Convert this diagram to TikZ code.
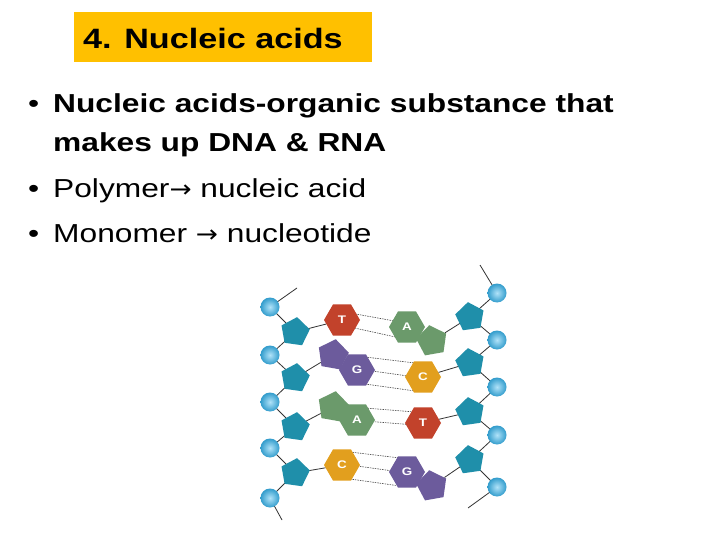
\documentclass[tikz,border=0pt]{standalone}
\usepackage{fontspec}
\setmainfont{Liberation Sans}[FakeStretch=1.22]
\newfontfamily\arr{DejaVu Sans}[FakeStretch=1.1]
\usetikzlibrary{shapes.geometric}
\definecolor{ttl}{HTML}{FFC000}
\definecolor{sug}{HTML}{1F8FAA}
\definecolor{pho}{HTML}{3BB8F0}
\definecolor{bT}{HTML}{C2422B}
\definecolor{bA}{HTML}{6B9A6B}
\definecolor{bG}{HTML}{6C5B9C}
\definecolor{bC}{HTML}{E29F1E}
\tikzset{
 phos/.style={circle,minimum size=19pt,inner sep=0pt,inner color=pho!40!white,outer color=pho!85!black,draw=none},
 sugar/.style={regular polygon,regular polygon sides=5,minimum size=30pt,inner sep=0pt,fill=sug},
 hexb/.style={regular polygon,regular polygon sides=6,minimum size=36pt,inner sep=0pt,fill=#1,text=white,font=\fontsize{11}{12}\selectfont\bfseries},
 pentb/.style={regular polygon,regular polygon sides=5,minimum size=32pt,inner sep=0pt,fill=#1},
 bb/.style={draw=black!80,line width=0.8pt},
 hb/.style={draw=black!70,line width=0.6pt,dash pattern=on 1.5pt off 1pt},
 txt/.style={anchor=base west,inner sep=0pt,font=\fontsize{26}{30}\selectfont}
}
\begin{document}
\begin{tikzpicture}[x=1pt,y=-1pt]
\useasboundingbox[fill=white] (0,0) rectangle (720,540);
\node[fill=ttl,minimum width=298pt,minimum height=50pt,inner sep=0pt,anchor=north west] (tb) at (74,12) {};
\node[txt,font=\fontsize{28}{32}\selectfont\bfseries] (tt) at (83,49) {4. Nucleic acids};
\node[txt] (b1) at (28,113) {•};
\node[txt,font=\fontsize{26}{30}\selectfont\bfseries] (l1) at (53,113) {Nucleic acids-organic substance that};
\node[txt,font=\fontsize{26}{30}\selectfont\bfseries] (l1b) at (53,152) {makes up DNA \& RNA};
\node[txt] (b2) at (28,197) {•};
\node[txt] (l2) at (53,197) {Polymer{\arr\fontsize{24}{28}\selectfont →} nucleic acid};
\node[txt] (b3) at (28,243) {•};
\node[txt] (l3) at (53,243) {Monomer {\arr\fontsize{24}{28}\selectfont →} nucleotide};
% backbone
\coordinate (lt) at (297,288); \coordinate (lb) at (282,520);
\coordinate (rt) at (480,265); \coordinate (rb) at (468,508);
\foreach \i/\y in {1/307,2/355,3/402,4/448,5/498}{\coordinate (LP\i) at (270,\y);}
\foreach \i/\y in {1/332,2/378,3/427,4/473}{\coordinate (LS\i) at (295,\y);}
\foreach \i/\y in {1/293,2/340,3/387,4/435,5/487}{\coordinate (RP\i) at (497,\y);}
\foreach \i/\y in {1/317,2/363,3/412,4/460}{\coordinate (RS\i) at (470,\y);}
\draw[bb] (lt)--(LP1)--(LS1)--(LP2)--(LS2)--(LP3)--(LS3)--(LP4)--(LS4)--(LP5)--(lb);
\draw[bb] (rt)--(RP1)--(RS1)--(RP2)--(RS2)--(RP3)--(RS3)--(RP4)--(RS4)--(RP5)--(rb);
% hydrogen bonds
\draw[hb] (350,313)--(400,322);
\draw[hb] (350,327)--(400,338);
\draw[hb] (365,357)--(415,363);
\draw[hb] (365,370)--(415,377);
\draw[hb] (365,384)--(415,391);
\draw[hb] (365,408)--(415,412);
\draw[hb] (365,421)--(415,425);
\draw[hb] (350,452)--(400,458);
\draw[hb] (350,465)--(400,472);
\draw[hb] (350,479)--(400,486);
% bases
\node[hexb=bT] (T1) at (342,320) {T};
\node[pentb=bA,rotate=10] (A1p) at (432,341) {};
\node[hexb=bA] (A1) at (407,327) {A};
\node[pentb=bG,rotate=-10] (G2p) at (333,355) {};
\node[hexb=bG] (G2) at (357,370) {G};
\node[hexb=bC] (C2) at (423,377) {C};
\node[pentb=bA,rotate=-10] (A3p) at (333,407) {};
\node[hexb=bA] (A3) at (357,420) {A};
\node[hexb=bT] (T3) at (423,423) {T};
\node[hexb=bC] (C4) at (342,465) {C};
\node[pentb=bG,rotate=10] (G4p) at (432,486) {};
\node[hexb=bG] (G4) at (407,472) {G};
\draw[bb] (LS1)--(T1); \draw[bb] (LS2)--(G2p); \draw[bb] (LS3)--(A3p); \draw[bb] (LS4)--(C4);
\draw[bb] (RS1)--(A1p); \draw[bb] (RS2)--(C2); \draw[bb] (RS3)--(T3); \draw[bb] (RS4)--(G4p);
\foreach \i in {1,2,3,4}{\node[sugar,rotate=-8] (ls\i) at (LS\i) {};\node[sugar,rotate=8] (rs\i) at (RS\i) {};}
\foreach \i in {1,...,5}{\node[phos] (lp\i) at (LP\i) {};\node[phos] (rp\i) at (RP\i) {};}
\end{tikzpicture}
\end{document}
